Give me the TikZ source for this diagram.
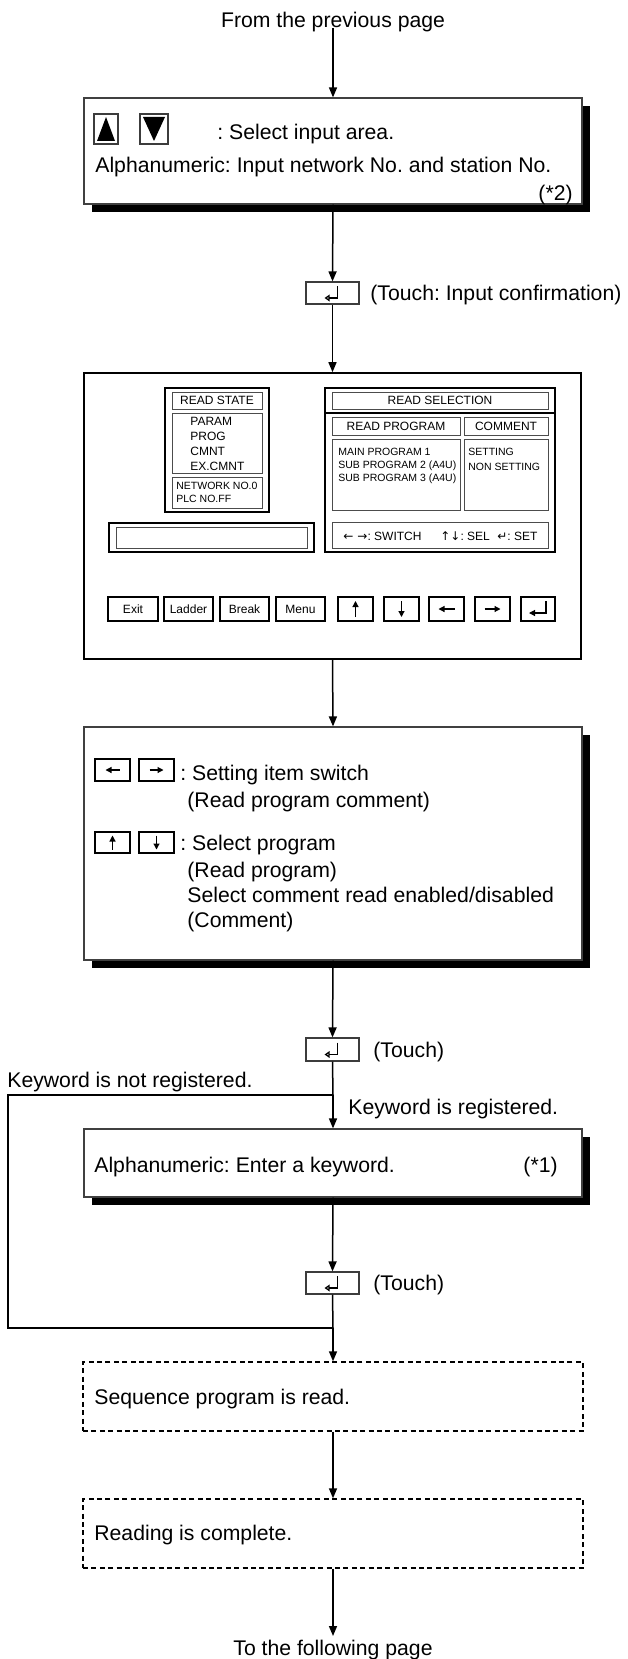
\documentclass[tikz,border=0pt]{standalone}
\usepackage{fontspec}
\setmainfont{Liberation Sans}
\newfontfamily\symfont{DejaVu Sans}
\usetikzlibrary{arrows.meta,calc,fit,shadows}
\definecolor{framegray}{RGB}{60,60,60}
\newcommand{\entmark}[1]{%
 \draw[line width=.8pt,-{Triangle[open,length=2.6pt,width=3.4pt]}]
  ($(#1.center)+(5,-7)$) -- ($(#1.center)+(5,5)$) -- ($(#1.center)+(-8,5)$);}
\frenchspacing

\begin{document}
\begin{tikzpicture}[x=0.5pt,y=-0.5pt,
  arr/.style={-{Triangle[length=5pt,width=4pt]},line width=.75pt},
  flow/.style={line width=.75pt},
  kar/.style={-{Triangle[length=3pt,width=3pt]},line width=.6pt},
  stepbox/.style={draw=black!75,line width=.6pt,fill=white,inner sep=0pt,
   drop shadow={shadow xshift=4pt,shadow yshift=-4pt,fill=black,opacity=1}},
  dashbox/.style={draw,line width=.7pt,dash pattern=on 2.5pt off 1.7pt,inner sep=0pt},
  keybox/.style={draw=framegray,line width=.6pt,inner sep=0pt},
  hardkey/.style={draw,line width=1.1pt,inner sep=0pt},
  panel/.style={draw,line width=1.2pt,inner sep=0pt},
  cell/.style={draw=black!70,line width=.5pt,inner sep=0pt},
  txt/.style={font=\fontsize{10.6}{12.7}\selectfont,inner sep=0pt,
   text height=7.6pt,text depth=0pt,anchor=west},
  tiny/.style={font=\fontsize{6}{7.2}\selectfont,inner sep=0pt,
   text height=4.3pt,text depth=0pt},
  tinier/.style={font=\fontsize{5.25}{6.3}\selectfont,inner sep=0pt,
   text height=3.8pt,text depth=0pt,anchor=west}]
 \useasboundingbox (0,0) rectangle (627,1659);

 % input of network / station
 \node[txt,anchor=center] (prev) at (333,20) {From the previous page};
 \node[stepbox,fit={(84,98)(582,204)}] (sel) {};
 \node[keybox,fit={(94,114)(118,144)}] (kup) {};
 \node[keybox,fit={(140,114)(168,144)}] (kdn) {};
 \fill (97,141) -- (115,141) -- (106,117) -- cycle;
 \fill (143,117) -- (165,117) -- (154,141) -- cycle;
 \node[txt] (selt) at (217,132) {: Select input area.};
 \node[txt] (alnum) at (95,165) {Alphanumeric: Input network No. and station No.};
 \node[txt,anchor=east] (n2) at (573,193) {(*2)};
 \draw[arr] (prev.south) -- (sel.north);

 \node[keybox,fit={(306,282)(359,304)}] (ent1) {};
 \entmark{ent1}
 \node[txt] (tch1) at (370,293) {(Touch: Input confirmation)};
 \draw[arr] (sel.south) -- (ent1.north);

 % read screen
 \node[draw,line width=.8pt,inner sep=0pt,fit={(84,373)(581,659)}] (scr) {};
 \draw[arr] (ent1.south) -- (scr.north);
 \node[panel,fit={(165,388)(269,512)}] (rstate) {};
 \node[cell,fit={(172,392)(262,409)}] (rstitle) {};
 \node[tiny] (rstitlel) at (rstitle.center) {READ STATE};
 \node[cell,fit={(172,413)(262,473)}] (rslist) {};
 \foreach \itm [count=\i] in {PARAM,PROG,CMNT,EX.CMNT}
  \node[tiny,anchor=west] (rs\i) at (190,{406+15*\i}) {\itm};
 \node[cell,fit={(172,477)(262,508)}] (rsnet) {};
 \node[tinier] (netno) at (176,486) {NETWORK NO.0};
 \node[tinier] (plcno) at (176,499) {PLC NO.FF};
 \node[panel,fit={(109,523)(314,552)}] (inp) {};
 \node[cell,fit={(116,527)(307,548)}] (inpf) {};

 \node[panel,fit={(325,388)(555,552)}] (rsel) {};
 \node[cell,fit={(332,392)(548,409)}] (rseltitle) {};
 \node[tiny] (rseltitlel) at (rseltitle.center) {READ SELECTION};
 \draw[line width=.8pt] (325,413) -- (555,413);
 \node[cell,fit={(332,417)(460,435)}] (rphead) {};
 \node[tiny] (rpheadl) at (rphead.center) {READ PROGRAM};
 \node[cell,fit={(464,417)(548,435)}] (cmhead) {};
 \node[tiny] (cmheadl) at (cmhead.center) {COMMENT};
 \node[cell,fit={(332,439)(460,510)}] (rplist) {};
 \node[cell,fit={(464,439)(548,510)}] (cmlist) {};
 \foreach \prg [count=\i] in {MAIN PROGRAM 1,SUB PROGRAM 2 (A4U),SUB PROGRAM 3 (A4U)}
  \node[tinier] (prg\i) at (338,{439+13*\i}) {\prg};
 \node[tinier] (cm1) at (468,452) {SETTING};
 \node[tinier] (cm2) at (468,467) {NON SETTING};
 \node[cell,fit={(332,522)(548,548)}] (rsfoot) {};
 \node[tiny,anchor=west] (fsw) at (343,536) {{\symfont ←\hspace{2pt}→}: SWITCH};
 \node[tiny,anchor=west] (fsl) at (440,536) {{\symfont ↑↓}: SEL};
 \node[tiny,anchor=west] (fst) at (497,536) {{\symfont ↵}: SET};

 \foreach \lab/\xa/\xb [count=\i] in {Exit/108/158,Ladder/164/213,Break/220/269,Menu/276/325}{
  \node[hardkey,fit={(\xa,597)(\xb,621)}] (hk\i) {};
  \node[tiny] (hkl\i) at (hk\i.center) {\lab};}
 \foreach \xa/\xb [count=\i] in {338/373,384/419,429/464,475/510,521/555}
  \node[hardkey,fit={(\xa,597)(\xb,621)}] (ak\i) {};
 \draw[kar] ($(ak1.center)+(0,8)$) -- ($(ak1.center)+(0,-8)$);
 \draw[kar] ($(ak2.center)+(0,-8)$) -- ($(ak2.center)+(0,8)$);
 \draw[kar] ($(ak3.center)+(8,0)$) -- ($(ak3.center)+(-8,0)$);
 \draw[kar] ($(ak4.center)+(-8,0)$) -- ($(ak4.center)+(8,0)$);
 \draw[kar] ($(ak5.center)+(8,-8)$) -- ($(ak5.center)+(8,4)$) -- ($(ak5.center)+(-9,4)$);

 % item switch / program select
 \node[stepbox,fit={(84,727)(582,960)}] (sw) {};
 \draw[arr] (scr.south) -- (sw.north);
 \node[hardkey,fit={(95,759)(130,781)}] (kl) {};
 \node[hardkey,fit={(139,759)(174,781)}] (kr) {};
 \node[hardkey,fit={(95,832)(130,853)}] (ku) {};
 \node[hardkey,fit={(139,832)(174,853)}] (kd) {};
 \draw[kar] ($(kl.center)+(7,0)$) -- ($(kl.center)+(-7,0)$);
 \draw[kar] ($(kr.center)+(-7,0)$) -- ($(kr.center)+(7,0)$);
 \draw[kar] ($(ku.center)+(0,7)$) -- ($(ku.center)+(0,-7)$);
 \draw[kar] ($(kd.center)+(0,-7)$) -- ($(kd.center)+(0,7)$);
 \node[txt] (setsw) at (180,773) {: Setting item switch};
 \node[txt] (rpc) at (187,800) {(Read program comment)};
 \node[txt] (selp) at (180,843) {: Select program};
 \node[txt] (rp) at (187,870) {(Read program)};
 \node[txt] (selc) at (187,895) {Select comment read enabled/disabled};
 \node[txt] (cmt) at (187,920) {(Comment)};

 \node[keybox,fit={(306,1038)(359,1061)}] (ent2) {};
 \entmark{ent2}
 \node[txt] (tch2) at (373,1050) {(Touch)};
 \draw[arr] (sw.south) -- (ent2.north);

 % keyword
 \coordinate (jn) at (333,1095);
 \coordinate (lt) at (8,1095);
 \coordinate (lb) at (8,1328);
 \coordinate (jm) at (333,1328);
 \node[txt] (nreg) at (7,1080) {Keyword is not registered.};
 \node[txt] (reg) at (348,1107) {Keyword is registered.};
 \node[stepbox,fit={(84,1129)(582,1197)}] (kw) {};
 \node[txt] (kwt) at (94,1165) {Alphanumeric: Enter a keyword.};
 \node[txt,anchor=east] (n1) at (558,1165) {(*1)};
 \draw[flow] (ent2.south) -- (jn);
 \draw[arr] (jn) -- (kw.north);
 \draw[flow] (jn) -- (lt) -- (lb) -- (jm);

 \node[keybox,fit={(306,1272)(359,1294)}] (ent3) {};
 \entmark{ent3}
 \node[txt] (tch3) at (373,1283) {(Touch)};
 \draw[arr] (kw.south) -- (ent3.north);
 \draw[flow] (ent3.south) -- (jm);

 % reading
 \node[dashbox,fit={(83,1362)(583,1431)}] (rd) {};
 \node[txt] (rdt) at (94,1397) {Sequence program is read.};
 \draw[arr] (jm) -- (rd.north);
 \node[dashbox,fit={(83,1499)(583,1568)}] (done) {};
 \node[txt] (donet) at (94,1533) {Reading is complete.};
 \draw[arr] (rd.south) -- (done.north);
 \node[txt,anchor=center] (next) at (333,1648) {To the following page};
 \draw[arr,shorten >=2pt] (done.south) -- (next.north);
\end{tikzpicture}
\end{document}
